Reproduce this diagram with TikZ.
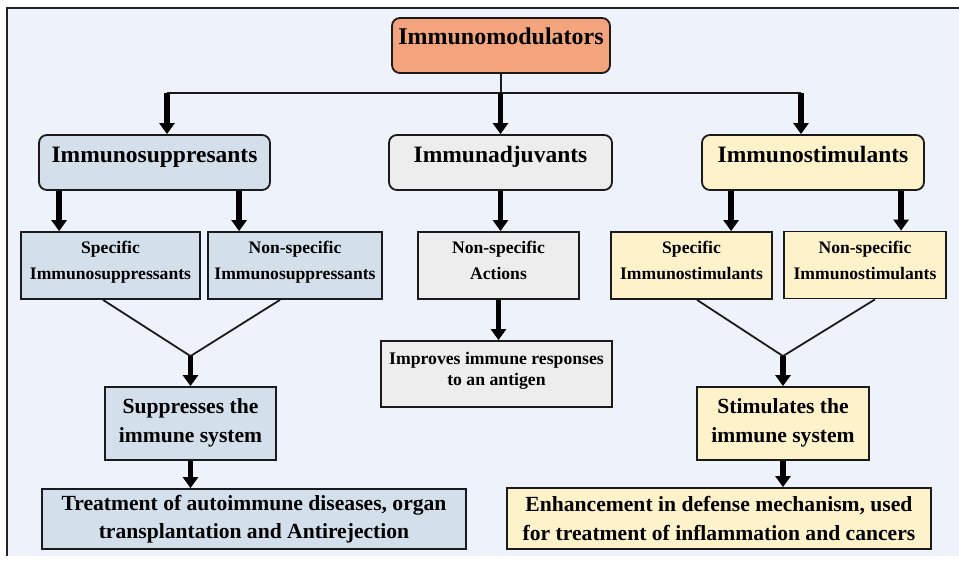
\documentclass[tikz,border=0pt]{standalone}
\usepackage{fontspec}
\setmainfont{Liberation Serif}
\usetikzlibrary{arrows.meta,calc}
\definecolor{bgc}{HTML}{EEF3FB}
\definecolor{framec}{HTML}{222222}
\definecolor{orangec}{HTML}{F4A47C}
\definecolor{bluec}{HTML}{D3DFEB}
\definecolor{greyc}{HTML}{EDEDED}
\definecolor{yellowc}{HTML}{FEF2CB}
\definecolor{linec}{HTML}{1A1A1A}
\newcommand{\upby}[1]{\rule[-#1pt]{0pt}{0pt}}
\tikzset{
  box/.style={draw=linec, line width=1.8pt, inner sep=0pt, align=center, text=black},
  rbox/.style={box, rounded corners=8pt},
  bigf/.style={font=\fontsize{24}{29}\selectfont\bfseries, text height=17pt, text depth=19pt},
  midf/.style={font=\fontsize{23.5}{28}\selectfont\bfseries, text height=16pt, text depth=16.5pt},
  smallf/.style={font=\fontsize{17.6}{26}\selectfont\bfseries},
  imprf/.style={font=\fontsize{17.7}{20.5}\selectfont\bfseries},
  botf/.style={font=\fontsize{21.6}{28.5}\selectfont\bfseries},
  thickarrow/.style={draw=black, line width=5.5pt, -{Triangle[width=15pt,length=11pt]}},
  thinline/.style={draw=linec, line width=1.8pt},
}
\begin{document}
\begin{tikzpicture}[x=1pt,y=-1pt]
\useasboundingbox (0,0) rectangle (959,562);
\fill[bgc] (7,8) rectangle (959,556);
\draw[framec, line width=1.5pt] (7,556) -- (7,8) -- (959,8);

% nodes
\node[rbox, bigf, fill=orangec, minimum width=218pt, minimum height=55pt] (root) at (501,45.5) {Immunomodulators};
\node[rbox, midf, fill=bluec, minimum width=231pt, minimum height=55pt] (sup) at (154.5,162.5) {Immunosuppresants};
\node[rbox, midf, fill=greyc, minimum width=223pt, minimum height=55pt] (adj) at (500.5,162.5) {Immunadjuvants};
\node[rbox, midf, fill=yellowc, minimum width=222pt, minimum height=55pt] (sti) at (813,162.5) {Immunostimulants};

\node[box, smallf, fill=bluec, minimum width=179pt, minimum height=67pt] (spS) at (110.5,265.5) {Specific\\Immunosuppressants\upby{10}};
\node[box, smallf, fill=bluec, minimum width=174pt, minimum height=67pt] (nsS) at (295,265.5) {Non-specific\\Immunosuppressants\upby{10}};
\node[box, smallf, fill=greyc, minimum width=161pt, minimum height=67pt] (nsA) at (498.5,265.5) {Non-specific\\Actions\upby{10}};
\node[box, smallf, fill=yellowc, minimum width=161pt, minimum height=67pt] (spT) at (691.5,265.5) {Specific\\Immunostimulants\upby{10}};
\node[box, smallf, fill=yellowc, minimum width=162pt, minimum height=67pt] (nsT) at (865,265) {Non-specific\\Immunostimulants\upby{10}};

\node[box, botf, fill=bluec, minimum width=171pt, minimum height=73pt] (supp) at (190.5,423.5) {Suppresses the\\immune system\upby{6}};
\node[box, botf, fill=bluec, minimum width=424pt, minimum height=60pt] (treat) at (254,519) {Treatment of autoimmune diseases, organ\\transplantation and Antirejection};
\node[box, imprf, fill=greyc, minimum width=231pt, minimum height=66pt] (impr) at (496.5,374) {Improves immune responses\\to an antigen\upby{10}};
\node[box, botf, fill=yellowc, minimum width=172pt, minimum height=73pt] (stim) at (783,423.5) {Stimulates the\\immune system\upby{6}};
\node[box, botf, fill=yellowc, minimum width=424pt, minimum height=61pt] (enh) at (719,518.5) {Enhancement in defense mechanism, used\\for treatment of inflammation and cancers};

% top bus
\draw[thinline] (root.south) -- ++(0,19) coordinate (bus);
\coordinate (b1) at ([xshift=12.5pt]sup.north);
\coordinate (b3) at ([xshift=-12pt]sti.north);
\draw[thinline] (bus -| b1) -- (bus -| b3);
\draw[thickarrow] (bus -| b1) -- (b1);
\draw[thickarrow] (bus -| adj.north) -- (adj.north);
\draw[thickarrow] (bus -| b3) -- (b3);

% level 2 arrows
\draw[thickarrow] ([xshift=21pt]sup.south west) -- ([xshift=21pt]sup.south west |- spS.north);
\draw[thickarrow] ([xshift=201pt]sup.south west) -- ([xshift=201pt]sup.south west |- nsS.north);
\draw[thickarrow] (adj.south) -- (adj.south |- nsA.north);
\draw[thickarrow] ([xshift=30pt]sti.south west) -- ([xshift=30pt]sti.south west |- spT.north);
\draw[thickarrow] ([xshift=200pt]sti.south west) -- ([xshift=200pt]sti.south west |- nsT.north);

% merges
\coordinate (mS) at ([yshift=30pt]supp.north);
\draw[thinline] ([xshift=-7.5pt]spS.south) -- (mS) -- ([xshift=-15pt]nsS.south);
\draw[thickarrow] (mS) -- (supp.north);
\coordinate (mT) at ([yshift=30pt]stim.north);
\draw[thinline] ([xshift=5.5pt]spT.south) -- (mT) -- ([xshift=10pt]nsT.south);
\draw[thickarrow] (mT) -- (stim.north);

\draw[thickarrow] (nsA.south) -- (nsA.south |- impr.north);
\draw[thickarrow] (supp.south) -- (supp.south |- treat.north);
\draw[thickarrow] (stim.south) -- (stim.south |- enh.north);
\end{tikzpicture}
\end{document}
